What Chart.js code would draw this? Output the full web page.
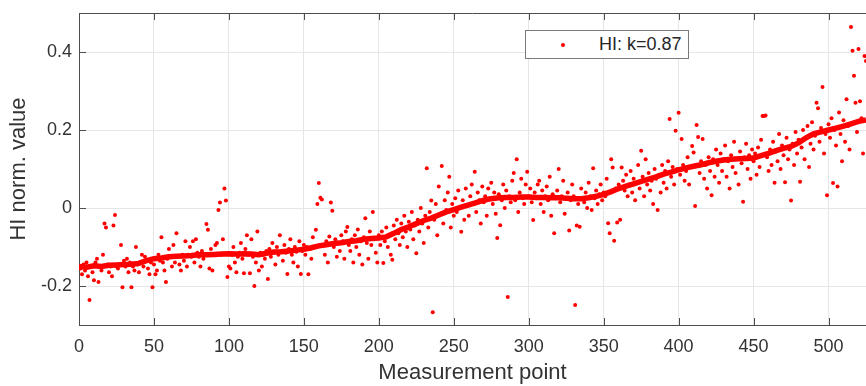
<!DOCTYPE html>
<html lang="en">
<head>
  <meta charset="UTF-8">
  <title>HI norm. value</title>
  <style>
    body {
      margin: 0;
      padding: 0;
      background: #fff;
      font-family: "Liberation Sans", Arial, sans-serif;
    }
    .wrap {
      position: relative;
      width: 866px;
      height: 386px;
    }
    #legend {
      position: absolute;
      left: 525px;
      top: 30px;
      width: 162px;
      height: 27px;
      border: 1px solid #7a7a7a;
      background: #fff;
      color: #262626;
      font-size: 18px;
      line-height: 27px;
    }
    #legend .dot {
      position: absolute;
      left: 35px;
      top: 12px;
      width: 4px;
      height: 4px;
      border-radius: 50%;
      background: #ff0000;
    }
    #legend .txt {
      position: absolute;
      left: 73px;
      top: 0;
    }
  </style>
</head>
<body>
  <div class="wrap">
    <canvas id="hiChart"></canvas>
    <div id="legend"><span class="dot"></span><span class="txt">HI: k=0.87</span></div>
  </div>

  <script src="https://cdn.jsdelivr.net/npm/chart.js"></script>
  <script>
    // axis ticks
    const xTicks = [0, 50, 100, 150, 200, 250, 300, 350, 400, 450, 500];
    const yTicks = [-0.2, 0, 0.2, 0.4];

    // HI values, one per measurement point (1..525)
    const hiValues = [
      -0.155, -0.170, -0.145, -0.160, -0.140, -0.175, -0.236, -0.150, -0.165, -0.185,
      -0.140, -0.130, -0.190, -0.150, -0.160, -0.120, -0.040, -0.050, -0.145, -0.165,
      -0.150, -0.175, -0.045, -0.018, -0.150, -0.155, -0.145, -0.095, -0.203, -0.135,
      -0.150, -0.130, -0.165, -0.140, -0.203, -0.150, -0.160, -0.100, -0.145, -0.165,
      -0.138, -0.120, -0.150, -0.125, -0.135, -0.155, -0.170, -0.140, -0.203, -0.145,
      -0.170, -0.160, -0.120, -0.135, -0.075, -0.140, -0.160, -0.190, -0.130, -0.105,
      -0.125, -0.150, -0.095, -0.140, -0.065, -0.125, -0.145, -0.160, -0.120, -0.135,
      -0.085, -0.150, -0.120, -0.100, -0.125, -0.085, -0.140, -0.080, -0.115, -0.125,
      -0.150, -0.110, -0.130, -0.120, -0.041, -0.056, -0.155, -0.105, -0.160, -0.120,
      -0.095, -0.090, -0.005, 0.014, -0.120, -0.080, 0.050, 0.019, -0.177, -0.150,
      -0.155, -0.120, -0.100, -0.140, -0.165, -0.125, -0.115, -0.090, -0.130, -0.167,
      -0.105, -0.070, -0.120, -0.167, -0.080, -0.125, -0.200, -0.140, -0.060, -0.160,
      -0.115, -0.150, -0.120, -0.130, -0.110, -0.182, -0.105, -0.125, -0.090, -0.115,
      -0.145, -0.100, -0.120, -0.070, -0.110, -0.135, -0.095, -0.115, -0.169, -0.105,
      -0.080, -0.120, -0.140, -0.100, -0.112, -0.150, -0.085, -0.169, -0.110, -0.095,
      -0.120, -0.100, -0.170, -0.105, -0.130, -0.075, -0.100, -0.056, 0.010, 0.064,
      0.026, 0.022, -0.095, -0.120, -0.085, -0.140, -0.073, 0.014, -0.007, -0.100,
      -0.080, -0.125, -0.090, -0.110, -0.070, -0.085, -0.130, -0.060, -0.049, -0.095,
      -0.110, -0.080, -0.140, -0.070, -0.100, -0.055, -0.120, -0.085, -0.145, -0.075,
      -0.026, -0.090, -0.130, -0.060, -0.095, -0.010, -0.080, -0.115, -0.140, -0.070,
      -0.095, -0.060, -0.141, -0.085, -0.050, -0.100, -0.070, -0.120, -0.133, -0.045,
      -0.080, -0.030, -0.065, -0.095, -0.040, -0.075, -0.020, -0.060, -0.100, -0.035,
      -0.055, -0.010, -0.080, -0.045, -0.116, -0.030, -0.060, 0.000, -0.040, -0.090,
      -0.020, 0.102, -0.050, -0.010, 0.019, -0.267, -0.030, 0.010, -0.070, 0.055,
      -0.015, 0.108, -0.040, 0.020, -0.005, 0.040, 0.080, -0.050, 0.010, -0.020,
      0.025, -0.010, 0.045, 0.000, -0.061, 0.020, -0.030, 0.050, 0.005, -0.020,
      0.030, 0.060, 0.010, 0.093, -0.010, 0.040, 0.020, -0.040, 0.055, 0.015,
      0.030, -0.020, 0.050, 0.025, 0.065, 0.010, 0.040, -0.015, -0.077, 0.035,
      -0.044, 0.020, 0.060, 0.000, 0.045, -0.228, 0.030, 0.015, 0.070, 0.090,
      0.020, 0.125, -0.010, 0.040, 0.075, 0.025, 0.010, 0.060, 0.093, 0.030,
      0.050, 0.015, -0.031, 0.040, 0.025, 0.060, 0.070, 0.010, 0.045, -0.010,
      0.030, 0.055, 0.020, 0.080, -0.020, 0.035, -0.065, 0.025, 0.045, 0.100,
      0.015, 0.030, 0.070, -0.015, 0.025, 0.040, -0.058, 0.020, 0.060, 0.030,
      -0.249, -0.045, 0.010, -0.048, 0.050, 0.025, 0.015, 0.040, 0.000, 0.065,
      0.030, -0.005, 0.102, 0.025, 0.045, 0.010, 0.035, 0.060, 0.020, 0.040,
      0.030, 0.075, -0.039, -0.065, 0.125, 0.104, -0.084, 0.050, -0.037, 0.060,
      -0.030, 0.104, 0.070, 0.045, 0.085, 0.030, 0.060, 0.095, 0.040, 0.075,
      0.020, 0.065, 0.110, 0.050, 0.147, 0.080, 0.030, 0.125, 0.060, 0.090,
      0.045, 0.070, 0.010, 0.100, 0.075, -0.005, 0.085, 0.040, 0.110, 0.065,
      0.095, 0.050, 0.120, 0.228, 0.080, 0.105, 0.060, 0.198, 0.100, 0.244,
      0.085, 0.177, 0.110, 0.070, 0.095, 0.130, 0.060, 0.105, 0.159, 0.142,
      0.005, 0.213, 0.182, 0.090, 0.120, 0.177, 0.075, 0.110, 0.050, 0.130,
      0.095, 0.033, 0.125, 0.080, 0.150, 0.110, 0.065, 0.140, 0.095, 0.125,
      0.160, 0.080, 0.120, 0.050, 0.135, 0.105, 0.170, 0.090, 0.125, 0.060,
      0.145, 0.115, 0.016, 0.130, 0.165, 0.100, 0.135, 0.075, 0.150, 0.120,
      0.140, 0.085, 0.155, 0.105, 0.175, 0.236, 0.236, 0.237, 0.130, 0.095,
      0.150, 0.110, 0.170, 0.065, 0.145, 0.120, 0.190, 0.100, 0.160, 0.135,
      0.066, 0.180, 0.125, 0.150, 0.019, 0.165, 0.110, 0.195, 0.140, 0.175,
      0.067, 0.155, 0.200, 0.125, 0.180, 0.210, 0.105, 0.165, 0.220, 0.150,
      0.185, 0.270, 0.256, 0.170, 0.205, 0.310, 0.140, 0.190, 0.033, 0.215,
      0.180, 0.230, 0.064, 0.200, 0.160, 0.055, 0.245, 0.190, 0.120, 0.225,
      0.170, 0.279, 0.210, 0.150, 0.464, 0.403, 0.339, 0.270, 0.195, 0.408,
      0.274, 0.230, 0.140, 0.390, 0.377
    ];

    // smoothed trend (moving mean)
    const trendX = [
      0, 5, 10, 15, 20, 25, 30, 35, 40, 45, 50, 55, 60, 65, 70, 75, 80, 85, 90, 95,
      100, 105, 110, 115, 120, 125, 130, 135, 140, 145, 150, 155, 160, 165, 170, 175,
      180, 185, 190, 195, 200, 205, 210, 215, 220, 225, 230, 235, 240, 245, 250, 255,
      260, 265, 270, 275, 280, 285, 290, 295, 300, 305, 310, 315, 320, 325, 330, 335,
      340, 345, 350, 355, 360, 365, 370, 375, 380, 385, 390, 395, 400, 405, 410, 415,
      420, 425, 430, 435, 440, 445, 450, 455, 460, 465, 470, 475, 480, 485, 490, 495,
      500, 505, 510, 515, 520, 525
    ];
    const trendY = [
      -0.150, -0.152, -0.148, -0.150, -0.147, -0.146, -0.145, -0.144, -0.142, -0.135,
      -0.130, -0.128, -0.125, -0.124, -0.123, -0.122, -0.120, -0.120, -0.119, -0.118,
      -0.117, -0.118, -0.117, -0.118, -0.120, -0.116, -0.113, -0.112, -0.110, -0.108,
      -0.106, -0.102, -0.097, -0.094, -0.091, -0.089, -0.086, -0.084, -0.080, -0.078,
      -0.077, -0.074, -0.065, -0.055, -0.048, -0.040, -0.032, -0.026, -0.018, -0.010,
      -0.004, 0.002, 0.008, 0.014, 0.020, 0.024, 0.026, 0.027, 0.027, 0.028,
      0.028, 0.027, 0.027, 0.026, 0.026, 0.025, 0.024, 0.024, 0.026, 0.030,
      0.035, 0.042, 0.050, 0.056, 0.062, 0.068, 0.074, 0.080, 0.087, 0.092,
      0.098, 0.103, 0.107, 0.111, 0.116, 0.120, 0.123, 0.125, 0.126, 0.127,
      0.128, 0.134, 0.140, 0.147, 0.153, 0.158, 0.167, 0.180, 0.190, 0.195,
      0.200, 0.205, 0.210, 0.216, 0.222, 0.226
    ];

    const scatterPts = hiValues.map((v, i) => ({ x: i + 1, y: v }));
    const trendPts = trendX.map((x, i) => ({ x: x, y: trendY[i] }));

    const axisColor = '#4d4d4d';
    const textColor = '#333333';
    const fontFamily = '"Liberation Sans", Arial, sans-serif';

    // MATLAB-like box: top edge line and inward tick marks
    const boxTicks = {
      id: 'boxTicks',
      afterDraw(chart) {
        const { ctx, chartArea: a, scales } = chart;
        ctx.save();
        ctx.strokeStyle = axisColor;
        ctx.lineWidth = 1;
        ctx.beginPath();
        ctx.moveTo(a.left, a.top + 0.5);
        ctx.lineTo(a.right, a.top + 0.5);
        xTicks.forEach(v => {
          const px = Math.round(scales.x.getPixelForValue(v)) + 0.5;
          ctx.moveTo(px, a.bottom);
          ctx.lineTo(px, a.bottom - 7);
          ctx.moveTo(px, a.top);
          ctx.lineTo(px, a.top + 7);
        });
        yTicks.forEach(v => {
          const py = Math.round(scales.y.getPixelForValue(v)) + 0.5;
          ctx.moveTo(a.left, py);
          ctx.lineTo(a.left + 7, py);
        });
        ctx.stroke();
        ctx.restore();
      }
    };

    new Chart(document.getElementById('hiChart'), {
      type: 'scatter',
      data: {
        datasets: [
          {
            label: 'trend',
            type: 'line',
            data: trendPts,
            borderColor: '#ff0000',
            borderWidth: 5.5,
            pointRadius: 0,
            tension: 0,
            order: 0
          },
          {
            label: 'HI: k=0.87',
            data: scatterPts,
            backgroundColor: '#ff0000',
            borderWidth: 0,
            pointRadius: 2,
            order: 1
          }
        ]
      },
      options: {
        responsive: true,
        maintainAspectRatio: false,
        animation: false,
        layout: {
          autoPadding: false,
          padding: { top: 13, right: 0, bottom: 0, left: 0 }
        },
        plugins: {
          legend: { display: false },
          tooltip: { enabled: false }
        },
        scales: {
          x: {
            type: 'linear',
            min: 0,
            max: 525,
            afterBuildTicks: s => { s.ticks = xTicks.map(v => ({ value: v })); },
            afterFit: s => {
              s.height = 61;
              s.paddingLeft = 0;
              s.paddingRight = 0;
            },
            grid: { color: '#e6e6e6', drawTicks: false },
            border: { color: axisColor, width: 1 },
            ticks: {
              color: textColor,
              font: { family: fontFamily, size: 18 },
              padding: 11,
              maxRotation: 0,
              autoSkip: false
            },
            title: {
              display: true,
              text: 'Measurement point',
              color: textColor,
              font: { family: fontFamily, size: 22 },
              padding: { top: 0, bottom: 0 }
            }
          },
          y: {
            min: -0.3,
            max: 0.5,
            afterBuildTicks: s => { s.ticks = yTicks.map(v => ({ value: v })); },
            afterFit: s => {
              s.width = 79;
              s.paddingTop = 0;
              s.paddingBottom = 0;
            },
            grid: { color: '#e6e6e6', drawTicks: false },
            border: { color: axisColor, width: 1 },
            ticks: {
              color: textColor,
              font: { family: fontFamily, size: 18 },
              padding: 7,
              callback: v => (v === 0 ? '0' : v.toFixed(1))
            },
            title: {
              display: true,
              text: 'HI norm. value',
              color: textColor,
              font: { family: fontFamily, size: 22 },
              padding: { top: 6, bottom: 0 }
            }
          }
        }
      },
      plugins: [boxTicks]
    });
  </script>
</body>
</html>
